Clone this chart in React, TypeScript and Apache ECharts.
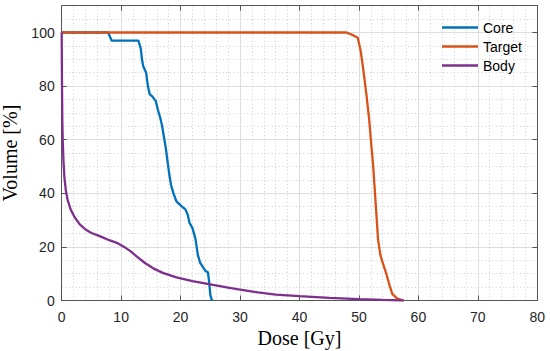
import React, { useEffect, useRef } from "react";
import * as echarts from "echarts";

const xTicks = [0, 10, 20, 30, 40, 50, 60, 70, 80];
const yTicks = [0, 20, 40, 60, 80, 100];
const seriesNames = ["Core", "Target", "Body"];

const coreDose = [0, 7.8, 8.4, 12.9, 13.3, 13.5, 13.7, 14.2, 14.5, 14.8, 15.3, 15.8, 16.2, 16.6, 16.9, 17.2, 17.5, 17.8, 18.1, 18.4, 18.8, 19.3, 20.0, 20.8, 21.2, 21.5, 22.0, 22.5, 22.9, 23.3, 23.9, 24.2, 24.6, 24.8, 25.0, 25.2, 25.4];
const coreVolume = [100, 100, 97, 97, 94, 90, 87.5, 85, 80, 77, 76, 74.5, 71, 68, 65, 61, 57, 52, 47, 43, 40, 37, 35.5, 34, 32, 29, 27, 23, 17, 14, 12, 11, 10.5, 7, 2, 0.5, 0];

const targetDose = [0, 47.9, 49.0, 49.8, 50.3, 50.8, 51.3, 51.7, 52.0, 52.4, 52.7, 53.0, 53.2, 53.6, 54.0, 54.6, 55.1, 55.6, 56.4, 57.0, 57.6];
const targetVolume = [100, 100, 99, 98, 93, 85, 76, 68, 60, 50, 40, 30, 23, 17, 14, 10, 6, 2.5, 0.8, 0.3, 0];

const bodyDose = [0, 0.05, 0.1, 0.17, 0.3, 0.45, 0.7, 1.0, 1.5, 2.2, 3, 4, 5, 6.4, 8, 9.5, 10.5, 11.5, 12.6, 14, 15.4, 17, 19.3, 22, 25, 28, 30, 33, 36, 40, 45, 50, 54, 57.5];
const bodyVolume = [100, 80, 68, 60, 52, 46, 41, 37.5, 34, 31, 28.5, 26.5, 25.2, 24, 22.5, 21.3, 20, 18.5, 16.5, 14, 12, 10.3, 8.6, 7.2, 6, 4.8, 4.1, 3, 2.2, 1.6, 1, 0.5, 0.2, 0];

const colors = ["#0072BD", "#D95319", "#7E2F8E"];

const zip = (xs: number[], ys: number[]) => xs.map((x, i) => [x, ys[i]]);

const AX = "#262626";
const BOX = "#555555";
const GRID = "#dedede";
const MINOR = "#cdcdcd";
const SANS = "Liberation Sans, Arial, sans-serif";
const SERIF = "Liberation Serif, Times New Roman, serif";

export default function App() {
  const ref = useRef<HTMLDivElement>(null);
  useEffect(() => {
    if (!ref.current) return;
    const chart = echarts.init(ref.current, null, { renderer: "svg" });
    const xMin = xTicks[0];
    const xMax = xTicks[xTicks.length - 1];
    const yMin = yTicks[0];
    const yMax = 110;
    chart.setOption({
      animation: false,
      backgroundColor: "#ffffff",
      grid: {
        left: 61.7,
        right: 12.7,
        top: 5.7,
        bottom: 50.5,
        containLabel: false,
        outerBoundsMode: "none",
      },
      legend: {
        data: seriesNames,
        orient: "vertical",
        left: 442,
        top: 20.5,
        icon: "rect",
        itemWidth: 36,
        itemHeight: 2.5,
        itemGap: 5,
        padding: 0,
        textStyle: { fontFamily: SANS, fontSize: 14, lineHeight: 14, color: "#000000" },
      },
      xAxis: [
        {
          type: "value",
          position: "bottom",
          min: xMin,
          max: xMax,
          interval: 10,
          name: "Dose [Gy]",
          nameLocation: "middle",
          nameGap: 24,
          nameTextStyle: { fontFamily: SERIF, fontSize: 20, color: "#000000" },
          axisLine: { show: true, onZero: false, lineStyle: { color: BOX, width: 1 } },
          axisTick: { show: true, inside: true, length: 5, lineStyle: { color: BOX } },
          axisLabel: { fontFamily: SANS, fontSize: 14, color: AX, margin: 9 },
          splitLine: { show: true, lineStyle: { color: GRID, width: 1 } },
          minorTick: { show: false, splitNumber: 5 },
          minorSplitLine: { show: true, lineStyle: { color: MINOR, width: 1, type: [1, 2.5] } },
        },
        {
          type: "value",
          position: "top",
          min: xMin,
          max: xMax,
          interval: 10,
          axisLine: { show: true, onZero: false, lineStyle: { color: BOX, width: 1 } },
          axisTick: { show: true, inside: true, length: 5, lineStyle: { color: BOX } },
          axisLabel: { show: false },
          splitLine: { show: false },
        },
      ],
      yAxis: [
        {
          type: "value",
          position: "left",
          min: yMin,
          max: yMax,
          interval: 20,
          name: "Volume [%]",
          nameLocation: "middle",
          nameGap: 33,
          nameTextStyle: { fontFamily: SERIF, fontSize: 20, color: "#000000" },
          axisLine: { show: true, onZero: false, lineStyle: { color: BOX, width: 1 } },
          axisTick: { show: true, inside: true, length: 5, lineStyle: { color: BOX } },
          axisLabel: {
            fontFamily: SANS,
            fontSize: 14,
            color: AX,
            margin: 7,
            showMaxLabel: false,
            formatter: (v: number) => (yTicks.includes(v) ? String(v) : ""),
          },
          splitLine: { show: true, lineStyle: { color: GRID, width: 1 } },
        },
        {
          type: "value",
          position: "right",
          min: yMin,
          max: yMax,
          interval: 20,
          axisLine: { show: true, onZero: false, lineStyle: { color: BOX, width: 1 } },
          axisTick: { show: true, inside: true, length: 5, lineStyle: { color: BOX } },
          axisLabel: { show: false },
          splitLine: { show: false },
        },
        {
          type: "value",
          position: "right",
          min: yMin,
          max: yMax,
          interval: 5,
          axisLine: { show: false },
          axisTick: { show: false },
          axisLabel: { show: false },
          splitLine: {
            show: true,
            lineStyle: {
              color: ["rgba(0,0,0,0)", MINOR, MINOR, MINOR],
              width: 1,
              type: [1, 2.5],
            },
          },
        },
      ],
      series: [
        {
          name: seriesNames[0],
          type: "line",
          data: zip(coreDose, coreVolume),
          symbol: "none",
          showSymbol: false,
          lineStyle: { color: colors[0], width: 2.3 },
          itemStyle: { color: colors[0] },
        },
        {
          name: seriesNames[1],
          type: "line",
          data: zip(targetDose, targetVolume),
          symbol: "none",
          showSymbol: false,
          lineStyle: { color: colors[1], width: 2.3 },
          itemStyle: { color: colors[1] },
        },
        {
          name: seriesNames[2],
          type: "line",
          data: zip(bodyDose, bodyVolume),
          symbol: "none",
          showSymbol: false,
          lineStyle: { color: colors[2], width: 2.3 },
          itemStyle: { color: colors[2] },
        },
      ],
    });
    return () => chart.dispose();
  }, []);
  return (
    <div
      ref={ref}
      style={{ position: "absolute", left: 0, top: 0, width: 550, height: 351, background: "#fff" }}
    />
  );
}
